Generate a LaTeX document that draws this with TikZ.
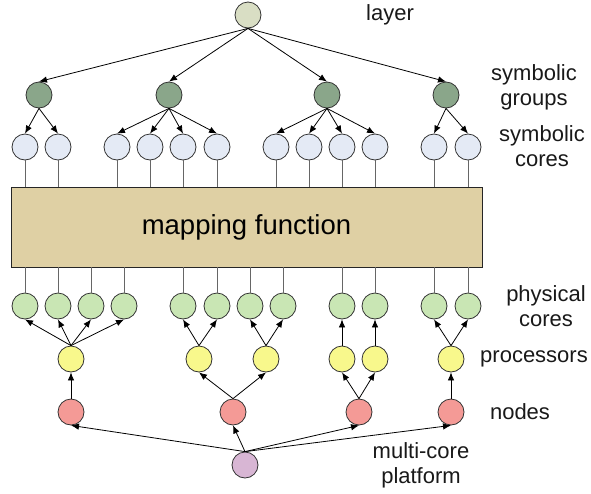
\documentclass[tikz,border=0pt]{standalone}
\usepackage{fontspec}
\setmainfont{Liberation Sans}
\usepackage{tikz}
\usetikzlibrary{calc,arrows.meta}

\definecolor{layercol}{RGB}{217,222,196}
\definecolor{groupcol}{RGB}{138,166,138}
\definecolor{symcol}{RGB}{228,234,245}
\definecolor{mapcol}{RGB}{223,208,164}
\definecolor{phycol}{RGB}{201,230,180}
\definecolor{proccol}{RGB}{248,248,140}
\definecolor{nodecol}{RGB}{244,154,150}
\definecolor{platcol}{RGB}{216,182,212}

\begin{document}
\begin{tikzpicture}[x=1pt,y=-1pt,
  unit/.style={circle,draw=black!80,line width=0.8pt,minimum size=26pt,inner sep=0pt},
  arr/.style={-{Latex[length=8pt,width=6.5pt]},line width=0.8pt},
  tie/.style={black!60,line width=1pt},
  lbl/.style={font={\fontsize{22}{25}\selectfont},align=center,text=black!90}]
\useasboundingbox (0,0) rectangle (591,493);

% symbolic side
\node[unit,fill=layercol] (layer) at (248,15) {};
\node[unit,fill=groupcol] (g1) at (39,95) {};
\node[unit,fill=groupcol] (g2) at (169,95) {};
\node[unit,fill=groupcol] (g3) at (327,95) {};
\node[unit,fill=groupcol] (g4) at (446,95) {};
\node[unit,fill=symcol] (s1) at (25,147) {};
\node[unit,fill=symcol] (s2) at (58,147) {};
\node[unit,fill=symcol] (s3) at (117,147) {};
\node[unit,fill=symcol] (s4) at (150,147) {};
\node[unit,fill=symcol] (s5) at (183,147) {};
\node[unit,fill=symcol] (s6) at (217,147) {};
\node[unit,fill=symcol] (s7) at (276,147) {};
\node[unit,fill=symcol] (s8) at (309,147) {};
\node[unit,fill=symcol] (s9) at (342,147) {};
\node[unit,fill=symcol] (s10) at (375,147) {};
\node[unit,fill=symcol] (s11) at (434,147) {};
\node[unit,fill=symcol] (s12) at (468,147) {};

% mapping box
\node[draw=black!85,line width=0.9pt,fill=mapcol,minimum width=471pt,minimum height=80pt,
  font={\fontsize{27.5}{30}\selectfont}] (mapping) at (246.5,227) {mapping function};

% physical side
\node[unit,fill=phycol] (p1) at (25,306) {};
\node[unit,fill=phycol] (p2) at (58,306) {};
\node[unit,fill=phycol] (p3) at (91,306) {};
\node[unit,fill=phycol] (p4) at (124,306) {};
\node[unit,fill=phycol] (p5) at (183,306) {};
\node[unit,fill=phycol] (p6) at (217,306) {};
\node[unit,fill=phycol] (p7) at (250,306) {};
\node[unit,fill=phycol] (p8) at (283,306) {};
\node[unit,fill=phycol] (p9) at (342,306) {};
\node[unit,fill=phycol] (p10) at (375,306) {};
\node[unit,fill=phycol] (p11) at (434,306) {};
\node[unit,fill=phycol] (p12) at (468,306) {};
\node[unit,fill=proccol] (proc1) at (71,359) {};
\node[unit,fill=proccol] (proc2) at (199,359) {};
\node[unit,fill=proccol] (proc3) at (266,359) {};
\node[unit,fill=proccol] (proc4) at (342,359) {};
\node[unit,fill=proccol] (proc5) at (375,359) {};
\node[unit,fill=proccol] (proc6) at (451,359) {};
\node[unit,fill=nodecol] (n1) at (71,412) {};
\node[unit,fill=nodecol] (n2) at (233,412) {};
\node[unit,fill=nodecol] (n3) at (359,412) {};
\node[unit,fill=nodecol] (n4) at (451,412) {};
\node[unit,fill=platcol] (platform) at (245,465) {};

% labels
\node[lbl] (lbllayer) at (390,15) {layer};
\node[lbl] (lblgroups) at (534,87) {symbolic\\groups};
\node[lbl] (lblsym) at (542,146) {symbolic\\cores};
\node[lbl] (lblphy) at (546,306) {physical\\cores};
\node[lbl] (lblproc) at (534,359) {processors};
\node[lbl] (lblnodes) at (520,412) {nodes};
\node[lbl] (lblplat) at (421,465) {multi-core\\platform};

% arrows
\draw[arr] (layer.south) -- (g1.north);
\draw[arr] (layer.south) -- (g2.north);
\draw[arr] (layer.south) -- (g3.north);
\draw[arr] (layer.south) -- (g4.north);
\draw[arr] (g1.south) -- (s1.north);
\draw[arr] (g1.south) -- (s2.north);
\draw[arr] (g2.south) -- (s3.north);
\draw[arr] (g2.south) -- (s4.north);
\draw[arr] (g2.south) -- (s5.north);
\draw[arr] (g2.south) -- (s6.north);
\draw[arr] (g3.south) -- (s7.north);
\draw[arr] (g3.south) -- (s8.north);
\draw[arr] (g3.south) -- (s9.north);
\draw[arr] (g3.south) -- (s10.north);
\draw[arr] (g4.south) -- (s11.north);
\draw[arr] (g4.south) -- (s12.north);

\draw[tie] (s1.south) -- (s1.south |- mapping.north);
\draw[tie] (s2.south) -- (s2.south |- mapping.north);
\draw[tie] (s3.south) -- (s3.south |- mapping.north);
\draw[tie] (s4.south) -- (s4.south |- mapping.north);
\draw[tie] (s5.south) -- (s5.south |- mapping.north);
\draw[tie] (s6.south) -- (s6.south |- mapping.north);
\draw[tie] (s7.south) -- (s7.south |- mapping.north);
\draw[tie] (s8.south) -- (s8.south |- mapping.north);
\draw[tie] (s9.south) -- (s9.south |- mapping.north);
\draw[tie] (s10.south) -- (s10.south |- mapping.north);
\draw[tie] (s11.south) -- (s11.south |- mapping.north);
\draw[tie] (s12.south) -- (s12.south |- mapping.north);

\draw[tie] (p1.north |- mapping.south) -- (p1.north);
\draw[tie] (p2.north |- mapping.south) -- (p2.north);
\draw[tie] (p3.north |- mapping.south) -- (p3.north);
\draw[tie] (p4.north |- mapping.south) -- (p4.north);
\draw[tie] (p5.north |- mapping.south) -- (p5.north);
\draw[tie] (p6.north |- mapping.south) -- (p6.north);
\draw[tie] (p7.north |- mapping.south) -- (p7.north);
\draw[tie] (p8.north |- mapping.south) -- (p8.north);
\draw[tie] (p9.north |- mapping.south) -- (p9.north);
\draw[tie] (p10.north |- mapping.south) -- (p10.north);
\draw[tie] (p11.north |- mapping.south) -- (p11.north);
\draw[tie] (p12.north |- mapping.south) -- (p12.north);

\draw[arr] (proc1.north) -- (p1.south);
\draw[arr] (proc1.north) -- (p2.south);
\draw[arr] (proc1.north) -- (p3.south);
\draw[arr] (proc1.north) -- (p4.south);
\draw[arr] (proc2.north) -- (p5.south);
\draw[arr] (proc2.north) -- (p6.south);
\draw[arr] (proc3.north) -- (p7.south);
\draw[arr] (proc3.north) -- (p8.south);
\draw[arr] (proc4.north) -- (p9.south);
\draw[arr] (proc5.north) -- (p10.south);
\draw[arr] (proc6.north) -- (p11.south);
\draw[arr] (proc6.north) -- (p12.south);

\draw[arr] (n1.north) -- (proc1.south);
\draw[arr] (n2.north) -- (proc2.south);
\draw[arr] (n2.north) -- (proc3.south);
\draw[arr] (n3.north) -- (proc4.south);
\draw[arr] (n3.north) -- (proc5.south);
\draw[arr] (n4.north) -- (proc6.south);

\draw[arr] (platform.north) -- (n1.south);
\draw[arr] (platform.north) -- (n2.south);
\draw[arr] (platform.north) -- (n3.south);
\draw[arr] (platform.north) -- (n4.south);
\end{tikzpicture}
\end{document}
